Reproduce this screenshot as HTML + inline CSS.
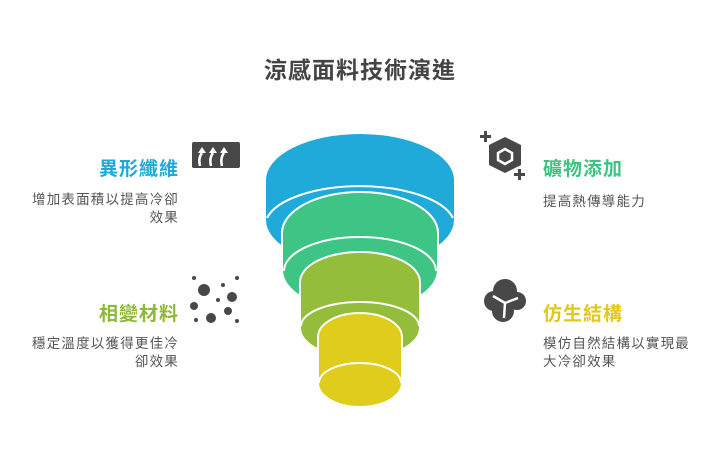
<!DOCTYPE html>
<html><head><meta charset="utf-8"><style>
body{margin:0;width:720px;height:457px;background:#fff;position:relative;overflow:hidden;font-family:"Liberation Sans","Noto Sans CJK TC",sans-serif}
.t{position:absolute;white-space:nowrap}
.h{font-size:19px;font-weight:bold;letter-spacing:1px}
.d{font-size:13.5px;color:#555;line-height:18px;letter-spacing:1.2px}
</style></head><body>
<div class="t" style="left:0;width:720px;text-align:center;top:51px;font-size:23px;font-weight:bold;color:#444;letter-spacing:1px">涼感面料技術演進</div>
<div class="t h" style="right:541px;top:154px;color:#1fa9d8;text-align:right">異形纖維</div>
<div class="t d" style="right:541px;top:191px;text-align:right">增加表面積以提高冷卻<br>效果</div>
<div class="t h" style="right:541px;top:299px;color:#8db83a;text-align:right">相變材料</div>
<div class="t d" style="right:541px;top:335px;text-align:right">穩定溫度以獲得更佳冷<br>卻效果</div>
<div class="t h" style="left:543px;top:154px;color:#3ec383">礦物添加</div>
<div class="t d" style="left:543px;top:193px">提高熱傳導能力</div>
<div class="t h" style="left:543px;top:299px;color:#e0c91a">仿生結構</div>
<div class="t d" style="left:543px;top:335px">模仿自然結構以實現最<br>大冷卻效果</div>
<svg width="720" height="457" style="position:absolute;left:0;top:0">
<g stroke="#fff" stroke-width="2">
<path d="M265,180 A95,47 0 0 1 455,180 L455,220 A95,47 0 0 1 265,220 Z" fill="#20aad9"/>
<path d="M282,233 A78,41 0 0 1 438,233 L438,270 A78,41 0 0 1 282,270 Z" fill="#3ec585"/>
<path d="M300,282 A60,30 0 0 1 420,282 L420,328 A60,30 0 0 1 300,328 Z" fill="#93bd3b"/>
<path d="M318,337 A42,24 0 0 1 402,337 L402,383 A42,24 0 0 1 318,383 Z" fill="#e0cc1a"/>
</g>
<g fill="none" stroke="#fff" stroke-width="2">
<path d="M267,218 A95,40 0 0 1 453,218"/>
<path d="M284,271 A76,34 0 0 1 436,271"/>
<path d="M301,326 A59,24 0 0 1 419,326"/>
<path d="M319,383 A41,20 0 0 1 401,383"/>
</g>
<g fill="#484848">
<rect x="192" y="142" width="48" height="26" rx="2"/>
<circle cx="194" cy="278" r="2"/><circle cx="237" cy="278" r="2"/><circle cx="223" cy="285" r="2"/><circle cx="194" cy="306" r="4"/><circle cx="228" cy="311" r="4"/><circle cx="196" cy="320" r="2"/><circle cx="237" cy="321" r="2"/><circle cx="218" cy="300" r="2"/>
<circle cx="204" cy="290" r="6"/><circle cx="232" cy="297" r="5"/><circle cx="211" cy="318" r="5"/>
<circle cx="505" cy="291" r="12"/><circle cx="494" cy="301" r="10"/><circle cx="517" cy="301" r="9"/><circle cx="503" cy="311" r="11"/>
<polygon points="505,137 521,145 521,165 505,173 489,165 489,145"/>
<rect x="480" y="135" width="11" height="3"/><rect x="484" y="131" width="3" height="11"/>
<rect x="514" y="173" width="11" height="3"/><rect x="518" y="169" width="3" height="11"/>
</g>
<g fill="none" stroke="#fff" stroke-width="2.5">
<path d="M200,166 Q198,158 202,153 M211,166 Q209,158 213,153 M222,166 Q220,158 224,153"/>
<polygon points="505,149 512,153 512,160 505,164 498,160 498,153"/>
<path d="M493,296 L505,303 L518,298 M505,303 L504,318"/>
</g>
<g fill="#fff"><polygon points="198,153 206,153 202,147"/><polygon points="209,153 217,153 213,147"/><polygon points="220,153 228,153 224,147"/></g>
</svg>
</body></html>
